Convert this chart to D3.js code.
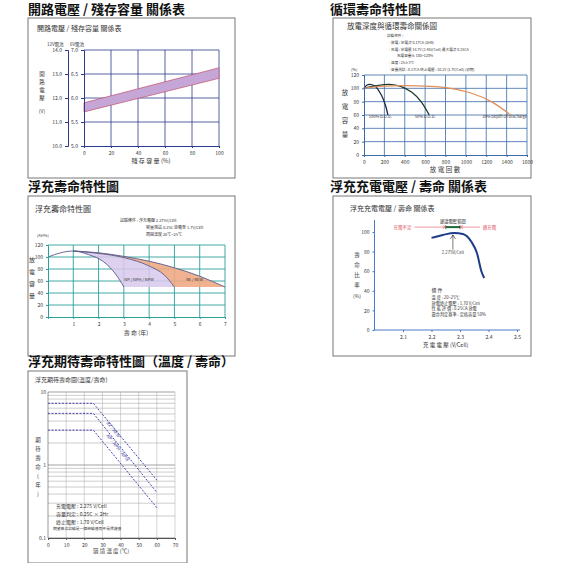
<!DOCTYPE html>
<html>
<head>
<meta charset="utf-8">
<script src="https://d3js.org/d3.v7.min.js"></script>
<style>
  body { margin: 0; background: #fff; }
  text { font-family: "Noto Sans CJK TC", sans-serif; }
</style>
</head>
<body>
<script>
// ---- data ----
var ocvX = [0, 100];
var ocvUpper = [5.9, 6.63];
var ocvLower = [5.71, 6.41];

var cycDod100 = [[0,100],[30,105],[60,106],[110,103],[170,90],[210,75],[235,60]];
var cycDod50 = [[0,100],[120,104],[250,106],[360,103],[470,94],[560,80],[640,60]];
var cycDod30 = [[0,100],[150,103],[400,104],[650,103],[850,100],[1050,93],[1250,80],[1440,60]];

var fltA = [[0,100],[0.5,107],[1,110],[1.6,104],[2.2,92],[2.7,70],[3,50]];
var fltB = [[1,110],[2,106],[3,99],[4,85],[4.6,70],[5,50]];
var fltC = [[1,110],[2,107],[3,101],[4,93],[5,82],[6,68],[7,50]];

var volt = [[2.2,94],[2.24,97],[2.28,99],[2.31,98],[2.34,90],[2.36,78],[2.375,60],[2.385,53]];

var tempRE = [[0,7.0],[25,7.0],[60,0.62]];
var tempNP = [[0,5.1],[25,5.1],[60,0.42]];
var tempLow = [[0,3.0],[25,3.0],[60,0.26]];

var svg = d3.select("body").append("svg").attr("width", 563).attr("height", 563);

function title(x, y, t) {
  svg.append("text").attr("x", x).attr("y", y).attr("font-size", 13).attr("font-weight", "bold").attr("fill", "#111").text(t);
}
function box(x, y, w, h) {
  svg.append("rect").attr("x", x).attr("y", y).attr("width", w).attr("height", h)
    .attr("fill", "#fff").attr("stroke", "#777").attr("stroke-width", 1);
}
function txt(x, y, t, size, opts) {
  opts = opts || {};
  return svg.append("text").attr("x", x).attr("y", y).attr("font-size", size)
    .attr("fill", opts.fill || "#333").attr("text-anchor", opts.anchor || "start").text(t);
}
function vtxt(x, y, chars, size, step) {
  chars.forEach(function (c, i) {
    txt(x, y + i * step, c, size, {anchor: "middle"});
  });
}
function axisStyle(g, color) {
  g.selectAll("path,line").attr("stroke", color);
  g.selectAll("text").attr("font-size", 5).attr("fill", "#333").attr("font-family", "Liberation Serif");
}
var fd = d3.format("d");

// ===== Panel 1 =====
title(28, 14, "開路電壓 / 殘存容量 關係表");
box(28, 18, 207, 160);
txt(37, 31, "開路電壓 / 殘存容量 關係表", 7);
(function () {
  var x = d3.scaleLinear().domain([0, 100]).range([84, 219]);
  var y = d3.scaleLinear().domain([5, 7]).range([146, 50]);
  var y12 = d3.scaleLinear().domain([10, 14]).range([146, 50]);
  var grid = svg.append("g");
  [20, 40, 60, 80, 100].forEach(function (v) {
    grid.append("line").attr("x1", x(v)).attr("x2", x(v)).attr("y1", 50).attr("y2", 146).attr("stroke", "#2c3a8c").attr("stroke-width", 0.8);
  });
  [5.5, 6, 6.5, 7].forEach(function (v) {
    grid.append("line").attr("x1", 84).attr("x2", 219).attr("y1", y(v)).attr("y2", y(v)).attr("stroke", "#2c3a8c").attr("stroke-width", 0.8);
  });
  var band = ocvX.map(function (d, i) { return [d, ocvUpper[i]]; })
    .concat(ocvX.slice().reverse().map(function (d, i) { return [d, ocvLower[ocvX.length - 1 - i]]; }));
  svg.append("path").attr("d", d3.line().x(function (d) { return x(d[0]); }).y(function (d) { return y(d[1]); })(band) + "Z")
    .attr("fill", "#c6a6d6").attr("stroke", "#c0506a").attr("stroke-width", 0.7);
  var gx = svg.append("g").attr("transform", "translate(0,146)").call(d3.axisBottom(x).tickValues([0,20,40,60,80,100]).tickSize(2));
  axisStyle(gx, "#2c3a8c");
  var gy = svg.append("g").attr("transform", "translate(84,0)").call(d3.axisLeft(y).tickValues([5,5.5,6,6.5,7]).tickFormat(d3.format(".1f")).tickSize(3));
  axisStyle(gy, "#2c3a8c");
  var gy2 = svg.append("g").attr("transform", "translate(68,0)").call(d3.axisLeft(y12).tickValues([10,11,12,13,14]).tickFormat(d3.format(".1f")).tickSize(3));
  axisStyle(gy2, "#2c3a8c");
  txt(47, 46, "12V電池", 4.5); txt(70, 46, "6V電池", 4.5);
  vtxt(42, 76, ["開","路","電","壓"], 5.5, 8);
  txt(42, 113, "(V)", 5, {anchor: "middle"});
  txt(151, 163, "殘 存 容 量 (%)", 6, {anchor: "middle"});
})();

// ===== Panel 2 =====
title(330, 14, "循環壽命特性圖");
box(333, 18, 198, 160);
txt(347, 29, "放電深度與循環壽命關係圖", 7.5);
[["試驗條件 :", 387, 37], ["- 放電 : 定電流 0.17CA (5HR)", 389, 44], ["- 充電 : 定電壓 14.7V (2.45V/Cell)   最大電流 0.25CA", 389, 51],
 ["充電容量比 100~120%", 397, 57], ["- 溫度 : 25±3℃", 389, 64], ["- 容量測試 : 0.17CA    終止電壓 : 10.2V (1.7V/Cell) (初期)", 389, 71]]
  .forEach(function (r) { txt(r[1], r[2], r[0], 3.6); });
(function () {
  var x = d3.scaleLinear().domain([0, 1600]).range([364, 527]);
  var y = d3.scaleLinear().domain([0, 120]).range([155, 75]);
  var g = svg.append("g");
  d3.range(200, 1601, 200).forEach(function (v) {
    g.append("line").attr("x1", x(v)).attr("x2", x(v)).attr("y1", 75).attr("y2", 155).attr("stroke", "#3a6aa8").attr("stroke-width", 0.8);
  });
  d3.range(20, 121, 20).forEach(function (v) {
    g.append("line").attr("x1", 364).attr("x2", 527).attr("y1", y(v)).attr("y2", y(v)).attr("stroke", "#3a6aa8").attr("stroke-width", 0.8);
  });
  var ln = d3.line().curve(d3.curveMonotoneX).x(function (d) { return x(d[0]); }).y(function (d) { return y(d[1]); });
  var ln2 = d3.line().curve(d3.curveCatmullRom).x(function (d) { return x(d[0]); }).y(function (d) { return y(d[1]); });
  svg.append("path").attr("d", ln2(cycDod100)).attr("fill", "none").attr("stroke", "#1e2a40").attr("stroke-width", 1.3);
  svg.append("path").attr("d", ln2(cycDod50)).attr("fill", "none").attr("stroke", "#1e3a2a").attr("stroke-width", 1.3);
  svg.append("path").attr("d", ln(cycDod30)).attr("fill", "none").attr("stroke", "#e0905a").attr("stroke-width", 1.3);
  var gx = svg.append("g").attr("transform", "translate(0,155)").call(d3.axisBottom(x).tickValues(d3.range(0, 1601, 200)).tickFormat(fd).tickSize(2));
  axisStyle(gx, "#3a6aa8");
  var gy = svg.append("g").attr("transform", "translate(364,0)").call(d3.axisLeft(y).tickValues(d3.range(0, 121, 20)).tickSize(2));
  axisStyle(gy, "#3a6aa8");
  txt(x(160), y(56), "100% D.O.D.", 4, {anchor: "middle"});
  txt(x(600), y(56), "50% D.O.D.", 4, {anchor: "middle"});
  txt(x(1600), y(56), "30% Depth Of Discharge", 4, {anchor: "end"});
  txt(351, 71, "(%)", 4);
  vtxt(345, 95, ["放","電","容","量"], 6.5, 14);
  txt(445, 172, "放 電 回 數", 6.5, {anchor: "middle"});
})();

// ===== Panel 3 =====
title(28, 191, "浮充壽命特性圖");
box(28, 196, 207, 160);
txt(35, 212, "浮充壽命特性圖", 8);
txt(120, 222, "試驗條件 : 浮充電壓  2.275V/Cell", 4);
txt(146, 229, "容量測試  0.25C 放電至 1.7V/Cell", 4);
txt(146, 236, "周圍溫度  20℃~25℃", 4);
(function () {
  var x = d3.scaleLinear().domain([0, 7]).range([48, 225]);
  var y = d3.scaleLinear().domain([0, 120]).range([317, 245]);
  var g = svg.append("g");
  d3.range(1, 8).forEach(function (v) {
    g.append("line").attr("x1", x(v)).attr("x2", x(v)).attr("y1", 245).attr("y2", 317).attr("stroke", "#2aa09a").attr("stroke-width", 0.9);
  });
  d3.range(20, 121, 20).forEach(function (v) {
    g.append("line").attr("x1", 48).attr("x2", 225).attr("y1", y(v)).attr("y2", y(v)).attr("stroke", "#2aa09a").attr("stroke-width", 0.9);
  });
  var ln = d3.line().curve(d3.curveMonotoneX).x(function (d) { return x(d[0]); }).y(function (d) { return y(d[1]); });
  var lowA = fltA.filter(function (d) { return d[0] >= 1; });
  svg.append("path").attr("d", ln(fltB) + "L" + x(3) + "," + y(50) + "L" + ln(lowA.slice().reverse()).slice(1))
    .attr("fill", "#d8c8ec").attr("opacity", 0.85);
  svg.append("path").attr("d", ln(fltC) + "L" + x(5) + "," + y(50) + "L" + ln(fltB.slice().reverse()).slice(1))
    .attr("fill", "#eeaa84").attr("opacity", 0.9);
  [fltA, fltB, fltC].forEach(function (s) {
    svg.append("path").attr("d", ln(s)).attr("fill", "none").attr("stroke", "#5a5a8a").attr("stroke-width", 0.9);
  });
  var gx = svg.append("g").attr("transform", "translate(0,317)").call(d3.axisBottom(x).tickValues(d3.range(1, 8)).tickFormat(fd).tickSize(2));
  axisStyle(gx, "#2aa09a");
  var gy = svg.append("g").attr("transform", "translate(48,0)").call(d3.axisLeft(y).tickValues(d3.range(0, 121, 20)).tickSize(2));
  axisStyle(gy, "#2aa09a");
  txt(x(3.6), y(60), "NP / NPH / NPW", 4, {anchor: "middle"});
  txt(x(5.8), y(60), "RE / REW", 4, {anchor: "middle"});
  txt(37, 237, "(AH%)", 4);
  vtxt(32, 262, ["放","電","容","量"], 6, 12);
  txt(136, 335, "壽  命  (年)", 6, {anchor: "middle"});
})();

// ===== Panel 4 =====
title(330, 191, "浮充充電電壓 / 壽命 關係表");
box(333, 196, 198, 160);
txt(350, 211, "浮充充電電壓 / 壽命  關係表", 7);
(function () {
  var x = d3.scaleLinear().domain([2.0, 2.5]).range([374.5, 517]);
  var y = d3.scaleLinear().domain([0, 100]).range([330, 232]);
  var ln = d3.line().curve(d3.curveMonotoneX).x(function (d) { return x(d[0]); }).y(function (d) { return y(d[1]); });
  svg.append("path").attr("d", ln(volt)).attr("fill", "none").attr("stroke", "#1e3c8a").attr("stroke-width", 2);
  var gx = svg.append("g").attr("transform", "translate(0,330)").call(d3.axisBottom(x).tickValues([2.1,2.2,2.3,2.4,2.5]).tickFormat(d3.format(".1f")).tickSize(2));
  axisStyle(gx, "#4a7ac8");
  gx.select("path").attr("d", "M" + (x(2.0) - 1) + ",0H" + (x(2.5) + 3));
  var gy = svg.append("g").attr("transform", "translate(374.5,0)").call(d3.axisLeft(y).tickValues([0,20,40,60,80,100]).tickSize(2));
  axisStyle(gy, "#4a7ac8");
  gy.select("path").attr("d", "M0,330V220");
  var ay = y(105);
  var red = "#e05060";
  svg.append("line").attr("x1", x(2.14)).attr("x2", x(2.37)).attr("y1", ay).attr("y2", ay).attr("stroke", red).attr("stroke-width", 0.6);
  svg.append("line").attr("x1", x(2.25)).attr("x2", x(2.30)).attr("y1", ay).attr("y2", ay).attr("stroke", "#1a6a3a").attr("stroke-width", 2);
  [2.25, 2.30].forEach(function (v) {
    svg.append("line").attr("x1", x(v)).attr("x2", x(v)).attr("y1", ay - 2).attr("y2", ay + 2).attr("stroke", "#222").attr("stroke-width", 0.6);
  });
  svg.append("path").attr("d", "M" + (x(2.25) - 3) + "," + (ay - 1.5) + "L" + x(2.25) + "," + ay + "L" + (x(2.25) - 3) + "," + (ay + 1.5)).attr("fill", "none").attr("stroke", red).attr("stroke-width", 0.6);
  svg.append("path").attr("d", "M" + (x(2.30) + 3) + "," + (ay - 1.5) + "L" + x(2.30) + "," + ay + "L" + (x(2.30) + 3) + "," + (ay + 1.5)).attr("fill", "none").attr("stroke", red).attr("stroke-width", 0.6);
  txt(x(2.13), ay + 1.5, "充電不足", 4.5, {fill: red, anchor: "end"});
  txt(x(2.38), ay + 1.5, "過充電", 4.5, {fill: red});
  txt(x(2.275), ay - 4, "建議電壓範圍", 4.3, {anchor: "middle"});
  svg.append("line").attr("x1", x(2.275)).attr("x2", x(2.275)).attr("y1", y(97)).attr("y2", y(82)).attr("stroke", "#222").attr("stroke-width", 0.6);
  svg.append("path").attr("d", "M" + (x(2.275) - 2.5) + "," + (y(93)) + "L" + x(2.275) + "," + y(97) + "L" + (x(2.275) + 2.5) + "," + y(93)).attr("fill", "none").attr("stroke", "#222").attr("stroke-width", 0.6);
  txt(x(2.275), y(78), "2.275V/Cell", 4.3, {anchor: "middle"});
  vtxt(357, 257, ["壽","命","比","率"], 5.5, 10);
  txt(357, 298, "(%)", 5, {anchor: "middle"});
  txt(x(2.2), y(39), "條  件", 5);
  [["溫          度 : 20~25℃", 32], ["放電終止電壓 : 1.70 V/Cell", 26], ["性  能  評  價 : 0.25CA  放電", 20], ["壽命判定基準 : 定格容量 50%", 14]]
    .forEach(function (r) { txt(x(2.2), y(r[1]), r[0], 4.2); });
  txt(x(2.25), 347, "充  電  電  壓  (V/Cell)", 5.5, {anchor: "middle"});
})();

// ===== Panel 5 =====
title(28, 366, "浮充期待壽命特性圖（溫度 / 壽命）");
box(28, 371, 159, 192);
txt(35, 382, "浮充期待壽命圖(溫度/壽命)", 6);
(function () {
  var x = d3.scaleLinear().domain([0, 70]).range([48, 175]);
  var y = d3.scaleLog().domain([0.1, 10]).range([538, 392]);
  var g = svg.append("g");
  [0.2,0.3,0.4,0.5,0.6,0.7,0.8,0.9,1,2,3,4,5,6,7,8,9,10].forEach(function (v) {
    g.append("line").attr("x1", 48).attr("x2", 175).attr("y1", y(v)).attr("y2", y(v)).attr("stroke", "#999").attr("stroke-width", v === 1 || v === 10 ? 0.9 : 0.5);
  });
  d3.range(10, 71, 10).forEach(function (v) {
    g.append("line").attr("x1", x(v)).attr("x2", x(v)).attr("y1", 392).attr("y2", 538).attr("stroke", "#aaa").attr("stroke-width", 0.5);
  });
  var ln = d3.line().x(function (d) { return x(d[0]); }).y(function (d) { return y(d[1]); });
  [tempRE, tempNP, tempLow].forEach(function (s) {
    svg.append("path").attr("d", ln(s)).attr("fill", "none").attr("stroke", "#4a46b0").attr("stroke-width", 1).attr("stroke-dasharray", "2,1.5");
  });
  [[tempRE, tempNP, "RE / REW"], [tempNP, tempLow, "NP / NPH / NPW"]].forEach(function (p) {
    var xv = 32;
    var mA = p[0][2][1], mB = p[1][2][1];
    var t = (xv - 25) / 35;
    var v = Math.exp(Math.log(p[0][1][1]) * (1 - t) + Math.log(mA) * t) * 0.55 + Math.exp(Math.log(p[1][1][1]) * (1 - t) + Math.log(mB) * t) * 0.45;
    var ang = Math.atan2(y(mA) - y(p[0][1][1]), x(60) - x(25)) * 180 / Math.PI;
    svg.append("text").attr("transform", "translate(" + x(xv) + "," + y(v) + ") rotate(" + ang + ")")
      .attr("font-size", 4.5).attr("fill", "#3a3aa0").attr("font-style", "italic").text(p[2]);
  });
  svg.append("line").attr("x1", 48).attr("x2", 48).attr("y1", 392).attr("y2", 538).attr("stroke", "#555").attr("stroke-width", 0.6);
  svg.append("line").attr("x1", 48).attr("x2", 175).attr("y1", 538).attr("y2", 538).attr("stroke", "#555").attr("stroke-width", 0.6);
  var gx = svg.append("g").attr("transform", "translate(0,538)").call(d3.axisBottom(x).tickValues(d3.range(0, 71, 10)).tickSize(2));
  axisStyle(gx, "#555");
  [0.1, 1, 10].forEach(function (v) {
    svg.append("text").attr("x", 46).attr("y", y(v) + 2).attr("text-anchor", "end").attr("font-size", 5).attr("font-family", "Liberation Serif").attr("fill", "#333").text(v === 0.1 ? "0.1" : v);
  });
  vtxt(38, 442, ["期","待","壽","命","(","年",")"], 5.5, 9);
  [["充電電壓 : 2.275 V/Cell", 508], ["容量判定 : 0.25C × 2Hr", 516], ["終止電壓 : 1.70 V/Cell", 524]].forEach(function (r) {
    txt(56, r[1], r[0], 5);
  });
  txt(53, 530, "期望壽命試驗是一個經驗值而不是保證值", 3.8);
  txt(111, 553, "環 境 溫 度 (℃)", 5.5, {anchor: "middle"});
})();
</script>
</body>
</html>
